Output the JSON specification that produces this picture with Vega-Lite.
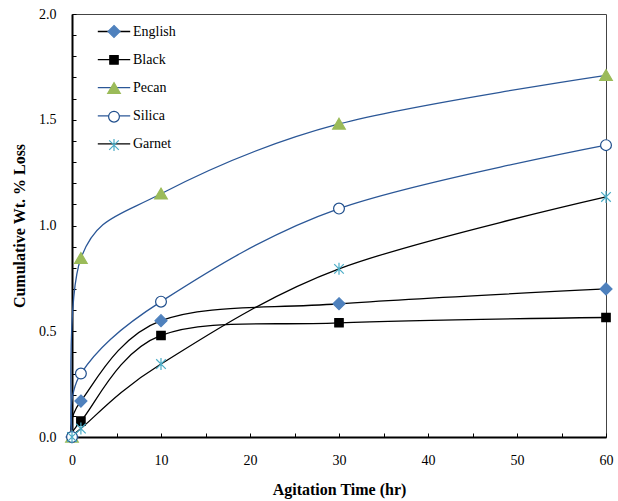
{
  "$schema": "https://vega.github.io/schema/vega-lite/v6.json",
  "width": 534,
  "height": 423,
  "autosize": {"type": "none"},
  "padding": {"left": 72, "top": 14, "right": 12, "bottom": 64},
  "background": "white",
  "config": {
    "font": "Liberation Serif",
    "view": {"stroke": "#444444", "strokeWidth": 1},
    "axis": {"grid": false, "titleFont": "Liberation Serif", "labelFont": "Liberation Serif"},
    "legend": {"labelFont": "Liberation Serif"}
  },
  "data": {
    "values": [
      {"t": 0, "v": 0, "s": "English"},
      {"t": 1, "v": 0.17, "s": "English"},
      {"t": 10, "v": 0.55, "s": "English"},
      {"t": 30, "v": 0.63, "s": "English"},
      {"t": 60, "v": 0.70, "s": "English"},
      {"t": 0, "v": 0, "s": "Black"},
      {"t": 1, "v": 0.075, "s": "Black"},
      {"t": 10, "v": 0.48, "s": "Black"},
      {"t": 30, "v": 0.54, "s": "Black"},
      {"t": 60, "v": 0.565, "s": "Black"},
      {"t": 0, "v": 0, "s": "Pecan"},
      {"t": 1, "v": 0.845, "s": "Pecan"},
      {"t": 10, "v": 1.15, "s": "Pecan"},
      {"t": 30, "v": 1.48, "s": "Pecan"},
      {"t": 60, "v": 1.71, "s": "Pecan"},
      {"t": 0, "v": 0, "s": "Silica"},
      {"t": 1, "v": 0.30, "s": "Silica"},
      {"t": 10, "v": 0.64, "s": "Silica"},
      {"t": 30, "v": 1.08, "s": "Silica"},
      {"t": 60, "v": 1.38, "s": "Silica"},
      {"t": 0, "v": 0, "s": "Garnet"},
      {"t": 1, "v": 0.04, "s": "Garnet"},
      {"t": 10, "v": 0.345, "s": "Garnet"},
      {"t": 30, "v": 0.795, "s": "Garnet"},
      {"t": 60, "v": 1.135, "s": "Garnet"}
    ]
  },
  "encoding": {
    "x": {
      "field": "t",
      "type": "quantitative",
      "scale": {"domain": [0, 60], "nice": false},
      "axis": {
        "title": "Agitation Time (hr)",
        "titleFontSize": 16,
        "titleFontWeight": "bold",
        "titleColor": "black",
        "titlePadding": 14,
        "values": [0, 5, 10, 15, 20, 25, 30, 35, 40, 45, 50, 55, 60],
        "labelExpr": "datum.value % 10 == 0 ? datum.label : ''",
        "labelOverlap": false,
        "labelFlush": false,
        "labelFontSize": 14,
        "labelColor": "black",
        "labelPadding": 20,
        "tickSize": -4,
        "tickColor": "black",
        "domainColor": "black",
        "domainWidth": 2
      }
    },
    "y": {
      "field": "v",
      "type": "quantitative",
      "scale": {"domain": [0, 2], "nice": false},
      "axis": {
        "title": "Cumulative Wt. % Loss",
        "titleFontSize": 16,
        "titleFontWeight": "bold",
        "titleColor": "black",
        "titlePadding": 11,
        "values": [0, 0.1, 0.2, 0.3, 0.4, 0.5, 0.6, 0.7, 0.8, 0.9, 1.0, 1.1, 1.2, 1.3, 1.4, 1.5, 1.6, 1.7, 1.8, 1.9, 2.0],
        "labelExpr": "abs(datum.value * 2 - round(datum.value * 2)) < 0.000001 ? format(datum.value, '.1f') : ''",
        "labelOverlap": false,
        "labelFlush": false,
        "labelFontSize": 14,
        "labelColor": "black",
        "labelPadding": 20,
        "tickSize": -4,
        "tickColor": "black",
        "domainColor": "black",
        "domainWidth": 2
      }
    }
  },
  "layer": [
    {
      "mark": {"type": "line", "interpolate": "cardinal", "strokeWidth": 1.3},
      "encoding": {
        "stroke": {
          "field": "s",
          "type": "nominal",
          "scale": {
            "domain": ["English", "Black", "Pecan", "Silica", "Garnet"],
            "range": ["#000000", "#000000", "#2B5797", "#2B5797", "#000000"]
          },
          "legend": {
            "title": null,
            "orient": "none",
            "legendX": 35,
            "legendY": 10.5,
            "padding": 0,
            "gridAlign": "all",
            "symbolType": "M-2.7,0H2.7",
            "symbolSize": 144,
            "symbolStrokeWidth": 1.3,
            "labelFontSize": 14,
            "labelColor": "black",
            "labelOffset": 12,
            "rowPadding": 14.1
          }
        }
      }
    },
    {
      "mark": {"type": "point", "size": 144, "opacity": 1, "strokeWidth": 1.2, "filled": true},
      "encoding": {
        "shape": {
          "field": "s",
          "type": "nominal",
          "scale": {
            "domain": ["English", "Black", "Pecan", "Silica", "Garnet"],
            "range": [
              "M0,-1L1,0L0,1L-1,0Z",
              "M-0.7,-0.7H0.7V0.7H-0.7Z",
              "M0,-0.95L1.05,0.85L-1.05,0.85Z",
              "M0.9,0A0.9,0.9,0,1,1,-0.9,0A0.9,0.9,0,1,1,0.9,0Z",
              "M-0.8,-0.8L0.8,0.8M-0.8,0.8L0.8,-0.8M0,-1L0,1"
            ]
          },
          "legend": {
            "title": null,
            "orient": "none",
            "legendX": 35,
            "legendY": 10.5,
            "padding": 0,
            "gridAlign": "all",
            "symbolSize": 144,
            "symbolStrokeWidth": 1.2,
            "labelFontSize": 14,
            "labelOpacity": 0,
            "labelOffset": 12,
            "rowPadding": 10.4
          }
        },
        "fill": {
          "field": "s",
          "type": "nominal",
          "scale": {
            "domain": ["English", "Black", "Pecan", "Silica", "Garnet"],
            "range": ["#4F81BD", "#000000", "#9BBB59", "#FFFFFF", "#4BACC6"]
          },
          "legend": {
            "title": null,
            "orient": "none",
            "legendX": 35,
            "legendY": 10.5,
            "padding": 0,
            "gridAlign": "all",
            "symbolSize": 144,
            "symbolStrokeWidth": 1.2,
            "labelFontSize": 14,
            "labelOpacity": 0,
            "labelOffset": 12,
            "rowPadding": 10.4
          }
        },
        "stroke": {
          "field": "s",
          "type": "nominal",
          "scale": {
            "domain": ["English", "Black", "Pecan", "Silica", "Garnet"],
            "range": ["#4F81BD", "#000000", "#9BBB59", "#1F4E8C", "#4BACC6"]
          },
          "legend": {
            "title": null,
            "orient": "none",
            "legendX": 35,
            "legendY": 10.5,
            "padding": 0,
            "gridAlign": "all",
            "symbolSize": 144,
            "symbolStrokeWidth": 1.2,
            "labelFontSize": 14,
            "labelOpacity": 0,
            "labelOffset": 12,
            "rowPadding": 10.4
          }
        }
      }
    }
  ],
  "resolve": {"scale": {"stroke": "independent", "fill": "independent", "shape": "independent"}}
}
